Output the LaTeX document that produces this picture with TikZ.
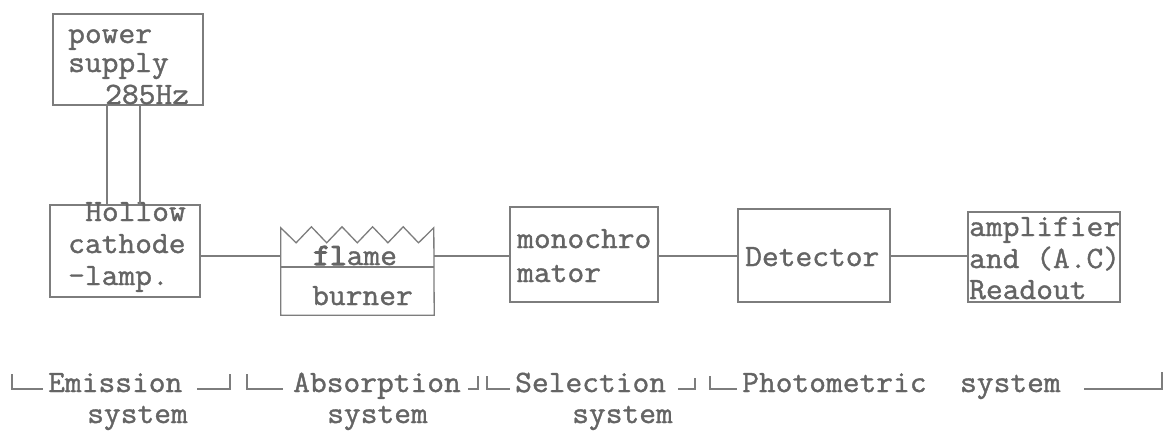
\documentclass[tikz,border=0pt]{standalone}
\usepackage{fontspec}
\newfontfamily\tw{Latin Modern Mono}[FakeStretch=1.05,FakeBold=1.2]
\newfontfamily\twb{Latin Modern Mono}[FakeStretch=1.05,FakeBold=3.5]
\definecolor{ink}{RGB}{100,100,100}
\definecolor{wire}{RGB}{125,125,125}
\begin{document}
\begin{tikzpicture}[x=1pt,y=-1pt,
  box/.style={draw=wire, line width=1.3pt, inner sep=0pt, rectangle},
  lbl/.style={anchor=base west, inner sep=0pt, text=ink, font=\tw\fontsize{31}{33}\selectfont},
  link/.style={draw=wire, line width=1.3pt},
  brk/.style={draw=wire, line width=1.1pt}]
\useasboundingbox[fill=white] (0,0) rectangle (1164,431);
% boxes
\node[box, minimum width=150pt, minimum height=91pt] (ps)   at (128,59.5) {};
\node[box, minimum width=150pt, minimum height=92pt] (hcl)  at (125,251) {};
\node[inner sep=0pt, minimum width=153pt, minimum height=87pt] (fb) at (357.5,271.5) {};
\node[box, minimum width=148pt, minimum height=95pt] (mono) at (584,254.5) {};
\node[box, minimum width=152pt, minimum height=93pt] (det)  at (814,255.5) {};
\node[box, minimum width=152pt, minimum height=90pt] (amp)  at (1044,257) {};
% flame / burner outline
\draw[link] (fb.north west)
  -- ++(15.3,15) -- ++(15.3,-16) -- ++(15.3,16) -- ++(15.3,-16)
  -- ++(15.3,16) -- ++(15.3,-16) -- ++(15.3,16) -- ++(15.3,-16)
  -- ++(15.3,16) -- ++(15.3,-15)
  -- (fb.south east) -- (fb.south west) -- cycle;
\draw[link] (fb.west |- 0,267) -- (fb.east |- 0,267);
% texts
\node[lbl] (t1) at (68,43) {power};
\node[lbl] (t2) at (68,72) {supply};
\node[lbl] (t3) at (105,104) {285Hz};
\node[lbl] (t4) at (85,221) {Hollow};
\node[lbl] (t5) at (68,253) {cathode};
\node[lbl] (t6) at (68,285) {-lamp.};
\node[lbl] (t7) at (313,265) {{\twb\fontsize{31}{33}\selectfont fl}ame};
\node[lbl] (t8) at (312,305) {burner};
\node[lbl] (t9) at (517,248) {monochro};
\node[lbl] (t10) at (517,282) {mator};
\node[lbl] (t11) at (745,266) {Detector};
\node[lbl] (t12) at (969,236) {amplifier};
\node[lbl] (t13) at (969,268) {and (A.C)};
\node[lbl] (t14) at (969,299) {Readout};
% wires from power supply
\draw[link] (ps.south -| 107,0) -- (hcl.north -| 107,0);
\draw[link] (ps.south -| 140,0) -- (hcl.north -| 140,0);
% chain
\coordinate (rail) at (0,256);
\draw[link] (hcl.east |- rail) -- (fb.west |- rail);
\draw[link] (fb.east |- rail) -- (mono.west |- rail);
\draw[link] (mono.east |- rail) -- (det.west |- rail);
\draw[link] (det.east |- rail) -- (amp.west |- rail);
% bottom labels
\node[lbl] (e1) at (48,392) {Emission};
\node[lbl] (e2) at (87,423) {system};
\node[lbl] (a1) at (293,392) {Absorption};
\node[lbl] (a2) at (327,423) {system};
\node[lbl] (s1) at (515,392) {Selection};
\node[lbl] (s2) at (572,423) {system};
\node[lbl] (p1) at (742,392) {Photometric\ \ system};
% brackets
\draw[brk] (12,374) -- (12,389) -- (43,389);
\draw[brk] (197,389) -- (230,389) -- (230,374);
\draw[brk] (247,374) -- (247,389) -- (283,389);
\draw[brk] (468,389) -- (478,389) -- (478,376);
\draw[brk] (487,376) -- (487,389) -- (510,389);
\draw[brk] (678,389) -- (695,389) -- (695,378);
\draw[brk] (710,376) -- (710,389) -- (737,389);
\draw[brk] (1084,389) -- (1162,389) -- (1162,372);
\end{tikzpicture}
\end{document}
